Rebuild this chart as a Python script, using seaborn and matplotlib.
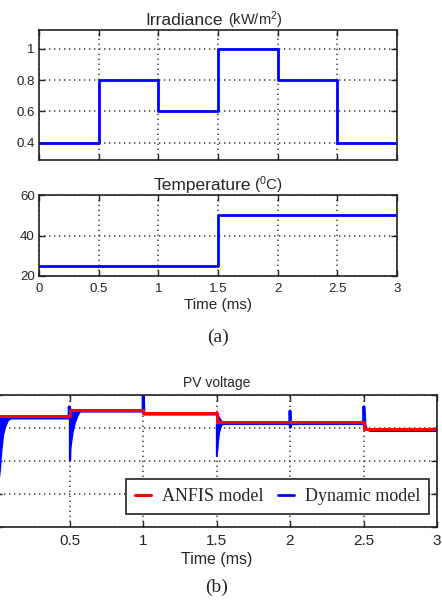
import matplotlib.pyplot as plt
import seaborn as sns

# ---- data ----
# (a) irradiance / temperature profiles, time in ms
step_t = [0, 0.5, 1.0, 1.5, 2.0, 2.5, 3.0]
irradiance = [0.4, 0.8, 0.6, 1.0, 0.8, 0.4, 0.4]
temp_t = [0, 1.5, 3.0]
temperature = [25, 50, 50]

# (b) PV voltage, ANFIS model (steps)
anfis_v = [43.7, 45.4, 44.4, 41.7, 41.7, 39.7, 39.7]

# (b) PV voltage, dynamic model: settled line with the short spikes
dyn_t = [0.10, 0.497, 0.497, 0.51, 1.0, 1.0, 1.003, 1.007, 1.5, 1.54, 2.0, 2.0,
         2.002, 2.005, 2.5, 2.5, 2.505, 2.51, 2.52, 2.55, 3.0]
dyn_v = [43.0, 43.0, 46.4, 45.1, 45.1, 50.0, 50.0, 44.2, 44.2, 41.3, 41.3, 45.2,
         40.2, 41.3, 41.3, 46.4, 46.4, 41.0, 39.6, 39.2, 39.2]

# dynamic model start-up / step transients (lower edge of the ringing)
fan0_t = [0.0, 0.015, 0.027, 0.035, 0.047, 0.06, 0.08, 0.10]
fan0_lo = [15.0, 23.0, 28.2, 33.0, 37.9, 40.3, 42.4, 43.0]
fan0_hi = [43.0, 43.0, 43.0, 43.0, 43.0, 43.0, 43.0, 43.0]
fan1_t = [0.497, 0.503, 0.506, 0.52, 0.534, 0.554, 0.57]
fan1_lo = [30.3, 30.3, 34.2, 38.8, 41.5, 43.9, 45.1]
fan1_hi = [45.1, 45.1, 45.1, 45.1, 45.1, 45.1, 45.1]
fan2_t = [1.497, 1.505, 1.51, 1.517, 1.53, 1.54]
fan2_lo = [31.6, 33.5, 36.4, 38.9, 40.8, 41.3]
fan2_hi = [41.3, 41.3, 41.3, 41.3, 41.3, 41.3]

x_ticks = [0, 0.5, 1, 1.5, 2, 2.5, 3]
x_labels = ['0', '0.5', '1', '1.5', '2', '2.5', '3']

sns.set_theme(style='white')
plt.rcParams['font.family'] = ['Liberation Sans', 'DejaVu Sans']
plt.rcParams['mathtext.fontset'] = 'custom'
plt.rcParams['mathtext.rm'] = 'Liberation Sans'
plt.rcParams['mathtext.default'] = 'regular'

fig = plt.figure(figsize=(4.42, 6.0), dpi=100)
ax1 = fig.add_axes([39/442, 1-160/600, 358/442, 130/600])
ax2 = fig.add_axes([39/442, 1-276/600, 358/442, 81/600])
ax3 = fig.add_axes([-4/442, 1-527/600, 441/442, 132/600])


def matlab_look(ax, fs):
    for s in ax.spines.values():
        s.set_color('#222222')
        s.set_linewidth(1.2)
    ax.tick_params(direction='in', top=True, right=True, bottom=True, left=True,
                   length=4, width=1, labelsize=fs, pad=3, colors='#222222')
    ax.grid(True, color='#444444', linestyle=(0, (0.8, 2.2)), linewidth=1.2)
    ax.set_xlim(0, 3)
    ax.set_xticks(x_ticks)


# irradiance
sns.lineplot(x=step_t, y=irradiance, drawstyle='steps-post', color='blue',
             linewidth=2, estimator=None, ax=ax1)
matlab_look(ax1, 9.5)
ax1.set_ylim(0.29, 1.12)
ax1.set_yticks([0.4, 0.6, 0.8, 1.0])
ax1.set_yticklabels(['0.4', '0.6', '0.8', '1'])
ax1.set_xticklabels([])
ax1.text(0.514, 1.038, 'Irradiance', ha='right', va='baseline',
         transform=ax1.transAxes, fontsize=12.5)
ax1.text(0.528, 1.038, '(kW/m$^2$)', ha='left', va='baseline',
         transform=ax1.transAxes, fontsize=10.5)

# temperature
sns.lineplot(x=temp_t, y=temperature, drawstyle='steps-post', color='blue',
             linewidth=2, estimator=None, ax=ax2)
matlab_look(ax2, 9.5)
ax2.set_ylim(20, 60)
ax2.set_yticks([20, 40, 60])
ax2.set_xticklabels(x_labels)
ax2.tick_params(axis='x', pad=5)
ax2.set_xlabel('Time (ms)', fontsize=11, labelpad=2)
ax2.text(0.592, 1.062, 'Temperature', ha='right', va='baseline',
         transform=ax2.transAxes, fontsize=12.5)
ax2.text(0.601, 1.062, '($^0$C)', ha='left', va='baseline',
         transform=ax2.transAxes, fontsize=11)

fig.text(0.493, 1-337/600, '(a)', ha='center', va='center',
         family='Liberation Serif', fontsize=14)

# PV voltage
for ft, lo, hi in [(fan0_t, fan0_lo, fan0_hi), (fan1_t, fan1_lo, fan1_hi),
                   (fan2_t, fan2_lo, fan2_hi)]:
    ax3.fill_between(ft, lo, hi, color='blue', linewidth=1)
sns.lineplot(x=dyn_t, y=dyn_v, color='blue', linewidth=2, sort=False,
             estimator=None, ax=ax3, label='Dynamic model')
sns.lineplot(x=step_t, y=anfis_v, drawstyle='steps-post', color='red',
             linewidth=2.2, estimator=None, ax=ax3, label='ANFIS model')
matlab_look(ax3, 11)
ax3.set_ylim(10, 50)
ax3.set_yticks([10, 20, 30, 40, 50])
ax3.tick_params(axis='y', labelleft=False)
ax3.set_xticklabels(x_labels)
ax3.tick_params(axis='x', pad=5)
ax3.set_xlabel('Time (ms)', fontsize=11.5, labelpad=3)
ax3.set_title('PV voltage', fontsize=10, pad=6)

handles, labels = ax3.get_legend_handles_labels()
leg = ax3.legend(handles[::-1], labels[::-1], ncol=2, loc='lower right',
                 bbox_to_anchor=(0.982, 0.098), borderaxespad=0,
                 prop={'family': 'Liberation Serif', 'size': 13},
                 frameon=True, fancybox=False, edgecolor='#222222',
                 framealpha=1, handlelength=0.9, handletextpad=0.6,
                 columnspacing=0.8, borderpad=0.5)
leg.get_frame().set_linewidth(1.2)

fig.text(0.491, 1-587/600, '(b)', ha='center', va='center',
         family='Liberation Serif', fontsize=14)

fig.savefig('out.png', dpi=100)
